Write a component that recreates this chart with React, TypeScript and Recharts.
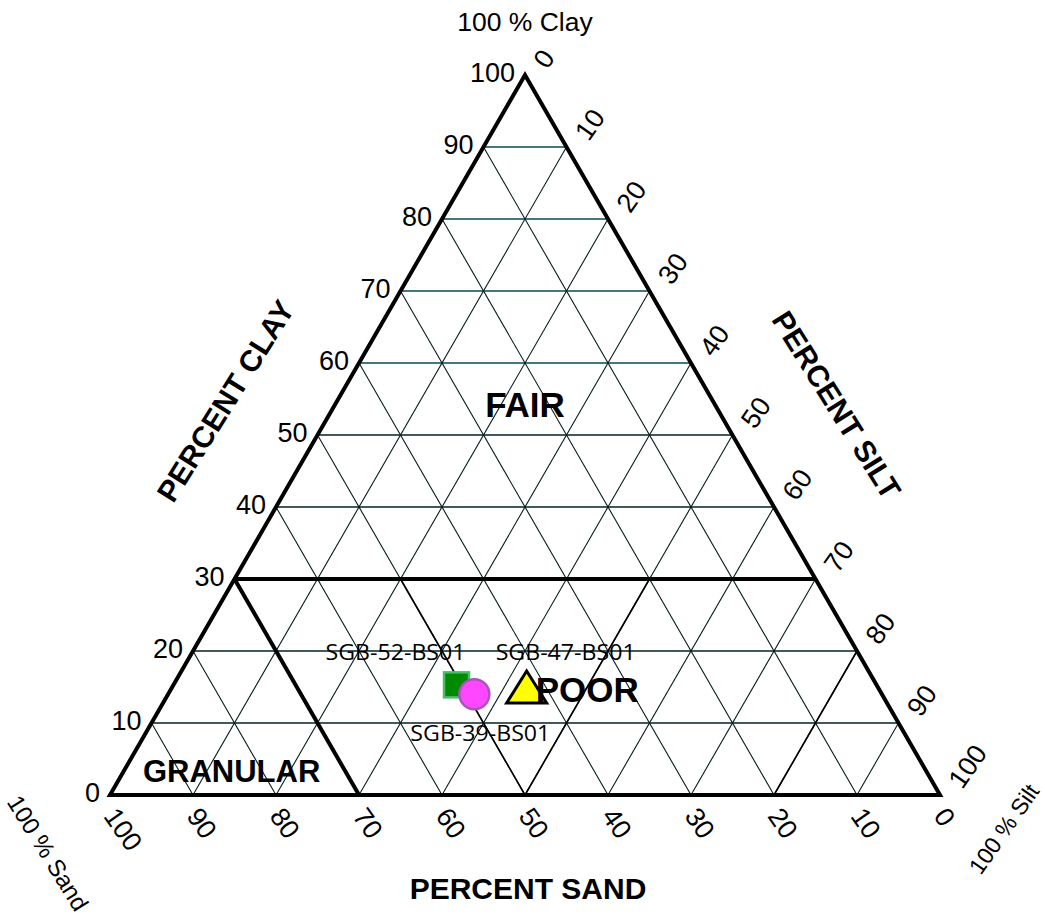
import { ScatterChart, Scatter, XAxis, YAxis, ReferenceLine } from 'recharts';

const W = 1045;
const H = 922;

// where the 0..100 ternary frame sits on the page
const LEFT_PX = 110;
const RIGHT_PX = 940;
const BASE_PX = 795;
const APEX_PX = 75;
const PX_PER_X = (RIGHT_PX - LEFT_PX) / 100;
const PX_PER_CLAY = (BASE_PX - APEX_PX) / 100;
const X_DOMAIN = [-LEFT_PX / PX_PER_X, (W - LEFT_PX) / PX_PER_X];
const Y_DOMAIN = [-(H - BASE_PX) / PX_PER_CLAY, BASE_PX / PX_PER_CLAY];

const FONT = '"Liberation Sans", Arial, sans-serif';

// tick values on each side
const clayTicks = [0, 10, 20, 30, 40, 50, 60, 70, 80, 90, 100];
const siltTicks = [0, 10, 20, 30, 40, 50, 60, 70, 80, 90, 100];
const sandTicks = [100, 90, 80, 70, 60, 50, 40, 30, 20, 10, 0];
const gridLevels = [10, 20, 30, 40, 50, 60, 70, 80, 90];

// samples (sand / silt / clay, %)
const sampleNames = ['SGB-52-BS01', 'SGB-39-BS01', 'SGB-47-BS01'];
const sampleSand = [50.6, 49.1, 42.3];
const sampleSilt = [34.1, 36.9, 42.7];
const sampleClay = [15.3, 14.0, 15.0];

// zone captions and where they sit (sand / silt / clay)
const zoneNames = ['FAIR', 'POOR', 'GRANULAR'];
const zoneSand = [22.9, 35.2, 83.7];
const zoneSilt = [22.9, 50.2, 13.0];
const zoneClay = [54.2, 14.6, 3.3];

const toXY = (sand: number, silt: number, clay: number) => {
  const t = sand + silt + clay;
  return { x: ((silt + clay / 2) / t) * 100, y: (clay / t) * 100 };
};

type TextStyle = {
  dx?: number;
  dy?: number;
  angle?: number;
  anchor?: 'start' | 'middle' | 'end';
  size: number;
  weight?: number | string;
  family?: string;
  textLength?: number;
};

const textShape = (style: TextStyle) => (props: any) => {
  const { cx, cy, payload } = props;
  const s = { ...style, ...(payload.style || {}) };
  const x = cx + (s.dx || 0);
  const y = cy + (s.dy || 0);
  return (
    <text
      x={x}
      y={y}
      textAnchor={s.anchor || 'middle'}
      dominantBaseline="central"
      fontSize={s.size}
      fontWeight={s.weight || 'normal'}
      fontFamily={s.family || FONT}
      fill="#000"
      textLength={s.textLength}
      lengthAdjust={s.textLength ? 'spacingAndGlyphs' : undefined}
      transform={s.angle ? `rotate(${s.angle} ${x} ${y})` : undefined}
    >
      {payload.text}
    </text>
  );
};

const clayLabels = clayTicks.map((c) => ({ ...toXY(100 - c, 0, c), text: String(c) }));
const siltLabels = siltTicks.map((s) => ({ ...toXY(0, s, 100 - s), text: String(s) }));
const sandLabels = sandTicks.map((s) => ({ ...toXY(s, 100 - s, 0), text: String(s) }));

const zoneLabels = zoneNames.map((n, i) => ({
  ...toXY(zoneSand[i], zoneSilt[i], zoneClay[i]),
  text: n,
  style: { size: n === 'GRANULAR' ? 31 : 35 },
}));

const samples = sampleNames.map((n, i) => ({
  ...toXY(sampleSand[i], sampleSilt[i], sampleClay[i]),
  text: n,
}));
const sampleLabelOffsets = [
  [-61, -34],
  [6, 38],
  [39, -36],
];
const sampleLabels = samples.map((s, i) => ({
  ...s,
  style: { dx: sampleLabelOffsets[i][0], dy: sampleLabelOffsets[i][1] },
}));

// axis titles, pinned to corners / edge midpoints
const titles = [
  { ...toXY(0, 0, 100), text: '100 % Clay', style: { dy: -53, size: 26.5 } },
  { ...toXY(50, 0, 50), text: 'PERCENT CLAY', style: { dx: -92, dy: -34, angle: -58, size: 30, weight: 'bold' } },
  { ...toXY(0, 50, 50), text: 'PERCENT SILT', style: { dx: 104, dy: -30, angle: 58, size: 30, weight: 'bold' } },
  { ...toXY(50, 50, 0), text: 'PERCENT SAND', style: { dx: 3, dy: 93, size: 30, weight: 'bold' } },
  { ...toXY(100, 0, 0), text: '100 % Sand', style: { dx: -62, dy: 58, angle: 58, size: 24 } },
  { ...toXY(0, 100, 0), text: '100 % Silt', style: { dx: 64, dy: 34, angle: -55, size: 23 } },
];

const outline = [toXY(100, 0, 0), toXY(0, 100, 0), toXY(0, 0, 100), toXY(100, 0, 0), toXY(0, 100, 0)];

const SquareMark = ({ cx, cy }: any) => (
  <rect x={cx - 12.5} y={cy - 12.5} width={25} height={25} fill="#008a00" stroke="#4cbb6c" strokeWidth={2.5} />
);
const CircleMark = ({ cx, cy }: any) => (
  <circle cx={cx} cy={cy} r={15} fill="#ff47ff" stroke="#a954b8" strokeWidth={2.5} />
);
const TriangleMark = ({ cx, cy }: any) => (
  <polygon
    points={`${cx},${cy - 16} ${cx - 20},${cy + 16} ${cx + 20},${cy + 16}`}
    fill="#ffff00"
    stroke="#000"
    strokeWidth={3}
  />
);
const markShapes = [SquareMark, CircleMark, TriangleMark];

const seg = (a: { x: number; y: number }, b: { x: number; y: number }) => [a, b];

// upper horizontals are teal in the original, the rest near black
const gridHColor = (c: number) => (c > 50 ? '#064d4d' : '#062020');
const GRID_D = '#081c1c';

export default function App() {
  return (
    <div style={{ position: 'absolute', left: 0, top: 0, background: '#fff' }}>
      <ScatterChart width={W} height={H} margin={{ top: 0, right: 0, bottom: 0, left: 0 }}>
        <XAxis type="number" dataKey="x" domain={X_DOMAIN} allowDataOverflow hide />
        <YAxis type="number" dataKey="y" domain={Y_DOMAIN} allowDataOverflow hide />

        {gridLevels.map((c) => (
          <ReferenceLine
            key={`h${c}`}
            segment={seg(toXY(100 - c, 0, c), toXY(0, 100 - c, c))}
            stroke={gridHColor(c)}
            strokeWidth={1.3}
          />
        ))}
        {gridLevels.map((s) => (
          <ReferenceLine
            key={`sa${s}`}
            segment={seg(toXY(s, 100 - s, 0), toXY(s, 0, 100 - s))}
            stroke={GRID_D}
            strokeWidth={1.1}
          />
        ))}
        {gridLevels.map((t) => (
          <ReferenceLine
            key={`si${t}`}
            segment={seg(toXY(100 - t, t, 0), toXY(0, t, 100 - t))}
            stroke={GRID_D}
            strokeWidth={1.1}
          />
        ))}

        {/* slightly heavier guide lines in the POOR zone */}
        <ReferenceLine segment={seg(toXY(50, 50, 0), toXY(50, 20, 30))} stroke="#000" strokeWidth={1.6} />
        <ReferenceLine segment={seg(toXY(50, 50, 0), toXY(20, 50, 30))} stroke="#000" strokeWidth={1.6} />
        <ReferenceLine segment={seg(toXY(20, 80, 0), toXY(0, 80, 20))} stroke="#000" strokeWidth={1.6} />

        {/* zone boundaries */}
        <ReferenceLine segment={seg(toXY(70, 0, 30), toXY(0, 70, 30))} stroke="#000" strokeWidth={4} />
        <ReferenceLine segment={seg(toXY(70, 0, 30), toXY(70, 30, 0))} stroke="#000" strokeWidth={4} />

        <Scatter
          data={outline}
          line={{ stroke: '#000', strokeWidth: 4 }}
          shape={() => <g />}
          isAnimationActive={false}
        />

        <Scatter data={clayLabels} shape={textShape({ dx: -10, dy: -2, anchor: 'end', size: 27 })} isAnimationActive={false} />
        <Scatter data={siltLabels} shape={textShape({ dx: 15, dy: -10, angle: -55, anchor: 'start', size: 27 })} isAnimationActive={false} />
        <Scatter data={sandLabels} shape={textShape({ dx: 0, dy: 16, angle: 55, anchor: 'start', size: 27 })} isAnimationActive={false} />

        <Scatter data={titles} shape={textShape({ size: 24 })} isAnimationActive={false} />

        <Scatter
          data={sampleLabels}
          shape={textShape({ size: 22, family: '"Open Sans", "Noto Sans", sans-serif', textLength: 140 })}
          isAnimationActive={false}
        />

        {samples.map((s, i) => (
          <Scatter key={s.text} name={s.text} data={[s]} shape={markShapes[i]} isAnimationActive={false} />
        ))}

        <Scatter data={zoneLabels} shape={textShape({ size: 35, weight: 'bold' })} isAnimationActive={false} />
      </ScatterChart>
    </div>
  );
}
